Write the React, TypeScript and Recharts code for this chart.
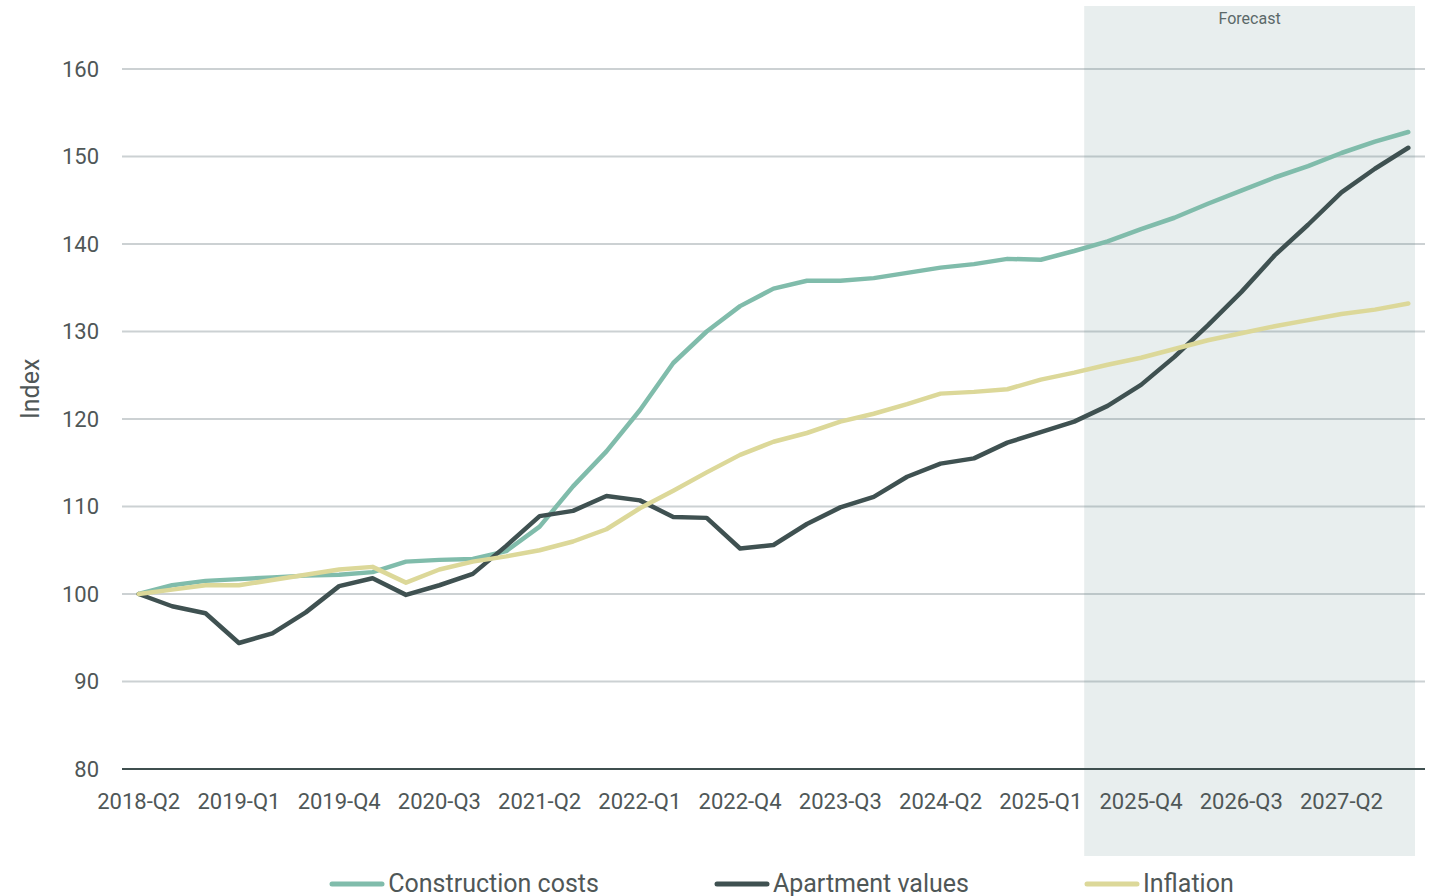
import {
  ComposedChart,
  Line,
  XAxis,
  YAxis,
  CartesianGrid,
  Legend,
  ReferenceArea,
} from "recharts";

const quarters = [
  "2018-Q2", "2018-Q3", "2018-Q4",
  "2019-Q1", "2019-Q2", "2019-Q3", "2019-Q4",
  "2020-Q1", "2020-Q2", "2020-Q3", "2020-Q4",
  "2021-Q1", "2021-Q2", "2021-Q3", "2021-Q4",
  "2022-Q1", "2022-Q2", "2022-Q3", "2022-Q4",
  "2023-Q1", "2023-Q2", "2023-Q3", "2023-Q4",
  "2024-Q1", "2024-Q2", "2024-Q3", "2024-Q4",
  "2025-Q1", "2025-Q2", "2025-Q3", "2025-Q4",
  "2026-Q1", "2026-Q2", "2026-Q3", "2026-Q4",
  "2027-Q1", "2027-Q2", "2027-Q3", "2027-Q4",
];

const constructionCosts = [
  100, 101.0, 101.5, 101.7, 101.9, 102.1, 102.2, 102.5, 103.7, 103.9, 104.0, 104.9,
  107.7, 112.3, 116.3, 121.0, 126.4, 130.0, 132.9, 134.9, 135.8, 135.8, 136.1,
  136.7, 137.3, 137.7, 138.3, 138.2, 139.2, 140.3, 141.7,
  143.0, 144.6, 146.1, 147.6, 148.9, 150.4, 151.7, 152.8,
];

const apartmentValues = [
  100, 98.6, 97.8, 94.4, 95.5, 97.9, 100.9, 101.8, 99.9, 101.0, 102.3, 105.5,
  108.9, 109.5, 111.2, 110.7, 108.8, 108.7, 105.2, 105.6, 108.0, 109.9, 111.1,
  113.4, 114.9, 115.5, 117.3, 118.5, 119.7, 121.5, 123.9,
  127.1, 130.7, 134.5, 138.7, 142.2, 145.9, 148.6, 151.0,
];

const inflation = [
  100, 100.5, 101.0, 101.0, 101.6, 102.2, 102.8, 103.1, 101.3, 102.8, 103.7, 104.3,
  105.0, 106.0, 107.4, 109.8, 111.8, 113.9, 115.9, 117.4, 118.4, 119.7, 120.6,
  121.7, 122.9, 123.1, 123.4, 124.5, 125.3, 126.2, 127.0,
  128.0, 129.0, 129.8, 130.6, 131.3, 132.0, 132.5, 133.2,
];

// every third quarter gets a label
const xTicks = [0, 3, 6, 9, 12, 15, 18, 21, 24, 27, 30, 33, 36];
const yTicks = [80, 90, 100, 110, 120, 130, 140, 150, 160];

// forecast band, in axis units (quarter index / index value)
const forecastX = [28.3, 38.2];
const forecastY = [70.06, 167.2];

const data = quarters.map((q, i) => ({
  i,
  quarter: q,
  construction: constructionCosts[i],
  apartment: apartmentValues[i],
  inflation: inflation[i],
}));

const FONT = "Roboto, 'Noto Sans', sans-serif";
const TEXT = "#4f5757";

const series = [
  { key: "construction", name: "Construction costs", color: "#80bcab" },
  { key: "apartment", name: "Apartment values", color: "#3f5151" },
  { key: "inflation", name: "Inflation", color: "#dcd899" },
];

function LegendContent({ payload }: any) {
  // keep legend in series order (recharts may reorder the payload)
  const items = series
    .map((s) => (payload || []).find((p: any) => p.dataKey === s.key))
    .filter(Boolean);
  return (
    <div
      style={{
        display: "flex",
        justifyContent: "center",
        gap: 115,
        fontFamily: FONT,
        fontSize: 25,
        color: TEXT,
        whiteSpace: "nowrap",
      }}
    >
      {items.map((p: any) => (
        <div key={p.value} style={{ display: "flex", alignItems: "center", gap: 3 }}>
          <svg width={56} height={8}>
            <line x1={3} y1={4} x2={53} y2={4} stroke={p.color} strokeWidth={5} strokeLinecap="round" />
          </svg>
          <span>{p.value}</span>
        </div>
      ))}
    </div>
  );
}

export default function App() {
  return (
    <div style={{ width: 1440, height: 896, overflow: "hidden", background: "#fff" }}>
      <style>{"body{margin:0;overflow:hidden}"}</style>
      <ComposedChart
        width={1440}
        height={896}
        data={data}
        margin={{ top: 69, right: 15, left: 0, bottom: 87 }}
      >
        <ReferenceArea
          x1={forecastX[0]}
          x2={forecastX[1]}
          y1={forecastY[0]}
          y2={forecastY[1]}
          ifOverflow="visible"
          fill="#5b8686"
          fillOpacity={0.14}
          stroke="none"
          label={{
            value: "Forecast",
            position: "insideTop",
            offset: 7,
            fill: "#5b6969",
            fontSize: 16,
            fontFamily: FONT,
          }}
        />
        <CartesianGrid vertical={false} stroke="#ccd1d3" strokeWidth={2} />
        <XAxis
          type="number"
          dataKey="i"
          domain={[-0.5, 38.5]}
          ticks={xTicks}
          interval={0}
          tickFormatter={(v: number) => quarters[v]}
          height={40}
          tickLine={false}
          tickSize={0}
          tickMargin={24}
          axisLine={{ stroke: "#3f4f4f", strokeWidth: 2 }}
          tick={{ fontSize: 22, fontFamily: FONT, fill: TEXT }}
        />
        <YAxis
          domain={[80, 160]}
          ticks={yTicks}
          interval={0}
          width={122}
          axisLine={false}
          tickLine={false}
          tickSize={0}
          tickMargin={23}
          tick={{ fontSize: 22, fontFamily: FONT, fill: TEXT }}
          label={{
            value: "Index",
            angle: -90,
            position: "insideLeft",
            offset: 30,
            fontSize: 25,
            fontFamily: FONT,
            fill: TEXT,
          }}
        />
        <Legend
          verticalAlign="middle"
          align="center"
          layout="horizontal"
          content={<LegendContent />}
          wrapperStyle={{ top: 869, left: 140, width: 1283, height: 27, overflow: "hidden" }}
        />
        {series.map((s) => (
          <Line
            key={s.key}
            type="linear"
            dataKey={s.key}
            name={s.name}
            stroke={s.color}
            strokeWidth={4.5}
            strokeLinecap="round"
            strokeLinejoin="round"
            dot={false}
            activeDot={false}
            isAnimationActive={false}
          />
        ))}
      </ComposedChart>
    </div>
  );
}
